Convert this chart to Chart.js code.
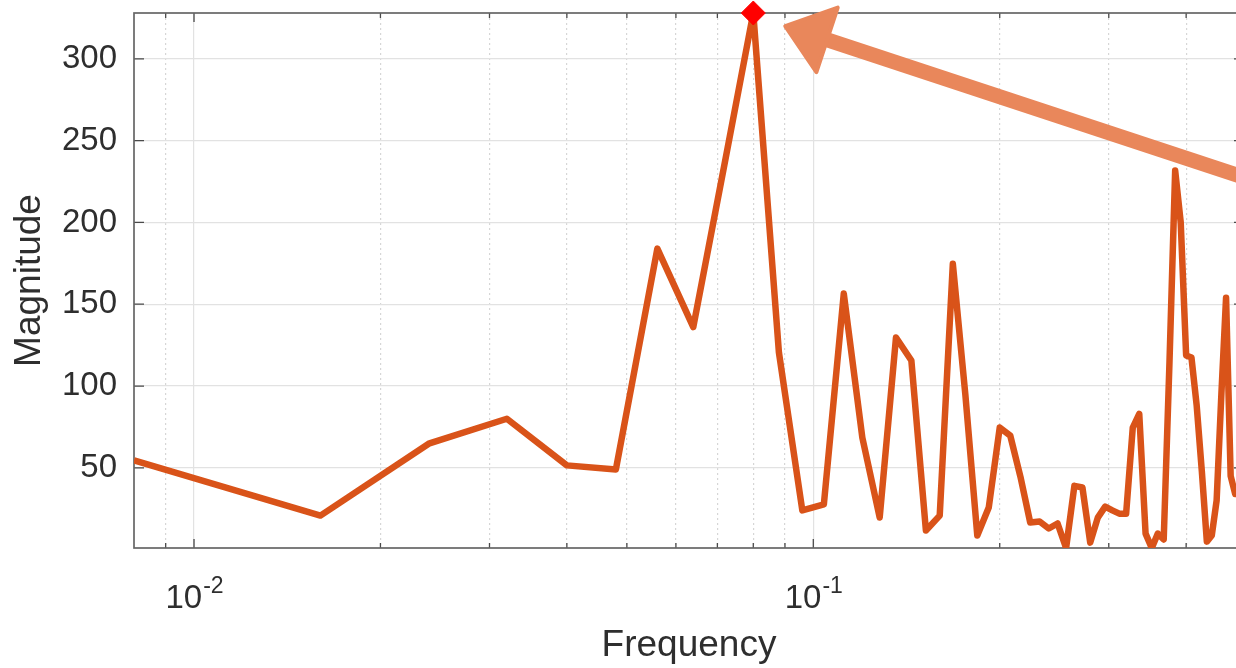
<!DOCTYPE html>
<html>
<head>
<meta charset="utf-8">
<script src="https://cdn.jsdelivr.net/npm/chart.js@4.4.1/dist/chart.umd.min.js"></script>
<style>
  html, body { margin: 0; padding: 0; background: #fff; overflow: hidden; }
  #wrap { width: 1236px; height: 668px; overflow: hidden; }
</style>
</head>
<body>
<div id="wrap"><canvas id="spectrum" width="1260" height="668"></canvas></div>
<script>
// FFT bins (k / 125) and magnitudes
const frequency = [
  0.008, 0.016, 0.024, 0.032, 0.040, 0.048, 0.056, 0.064, 0.072, 0.080,
  0.088, 0.096, 0.104, 0.112, 0.120, 0.128, 0.136, 0.144, 0.152, 0.160,
  0.168, 0.176, 0.184, 0.192, 0.200, 0.208, 0.216, 0.224, 0.232, 0.240,
  0.248, 0.256, 0.264, 0.272, 0.280, 0.288, 0.296, 0.304, 0.312, 0.320,
  0.328, 0.336, 0.344, 0.352, 0.360, 0.368, 0.376, 0.384, 0.392, 0.400,
  0.408, 0.416, 0.424, 0.432, 0.440, 0.448, 0.456, 0.464, 0.472, 0.480,
  0.488, 0.496
];
const magnitude = [
  54.5, 20.8, 65, 80, 51.5, 49, 184, 136, 237, 328,
  120.5, 24, 27.6, 156.5, 68.5, 19.6, 129.7, 115.6, 11.7, 20.8,
  174.7, 94.8, 8.6, 25.7, 74.6, 69.7, 44.6, 16.6, 17.2, 12.9,
  16, 1, 39, 38, 4.3, 19.6, 26.3, 24, 22, 22,
  74.6, 83, 9.8, 1, 9.8, 6.2, 115, 231.7, 200, 118.7,
  117.4, 88, 48, 4.9, 8.6, 30, 95, 154, 45, 34,
  38, 30
];
const peakPoint = [0.08, 328];
const yTicks = [50, 100, 150, 200, 250, 300];
const xGridTicks = [0.009, 0.01, 0.02, 0.03, 0.04, 0.05, 0.06, 0.07, 0.08, 0.09, 0.1, 0.2, 0.3, 0.4];
const xLabelTicks = [0.01, 0.1];
const xLabelText = [['10', '-2'], ['10', '-1']];
const arrowTail = [0.55, 222];
const arrowTip = [0.0901, 320];

const lineColor = '#D95319';
const arrowColor = '#E9875B';
const textColor = '#2e2e2e';
const isMajor = v => xLabelTicks.some(t => Math.abs(t - v) < 1e-9);

// MATLAB-style box, inward ticks, 10^n labels and the arrow annotation
const matlabAxes = {
  id: 'matlabAxes',
  beforeDatasetsDraw(chart) {
    const { ctx, chartArea: a, scales: { x, y } } = chart;
    ctx.save();
    ctx.strokeStyle = '#4a4a4a';
    ctx.lineWidth = 1.3;
    ctx.beginPath();
    xGridTicks.forEach(v => {
      const px = x.getPixelForValue(v);
      const len = isMajor(v) ? 9 : 5;
      ctx.moveTo(px, a.bottom); ctx.lineTo(px, a.bottom - len);
      ctx.moveTo(px, a.top); ctx.lineTo(px, a.top + len);
    });
    yTicks.forEach(v => {
      const py = y.getPixelForValue(v);
      ctx.moveTo(a.left, py); ctx.lineTo(a.left + 10, py);
      ctx.moveTo(a.right, py); ctx.lineTo(a.right - 10, py);
    });
    ctx.stroke();
    ctx.strokeStyle = '#666666';
    ctx.lineWidth = 1.7;
    ctx.strokeRect(a.left, a.top, a.right - a.left, a.bottom - a.top);
    ctx.restore();
  },
  afterDraw(chart) {
    const { ctx, chartArea: a, scales: { x, y } } = chart;
    ctx.save();
    // x tick labels with superscript exponents
    ctx.fillStyle = textColor;
    ctx.textBaseline = 'alphabetic';
    xLabelTicks.forEach((v, i) => {
      const [base, exp] = xLabelText[i];
      ctx.font = '33px "Liberation Sans", Arial, sans-serif';
      const wb = ctx.measureText(base).width;
      ctx.font = '23px "Liberation Sans", Arial, sans-serif';
      const we = ctx.measureText(exp).width;
      const left = x.getPixelForValue(v) - (wb + we) / 2;
      ctx.font = '33px "Liberation Sans", Arial, sans-serif';
      ctx.fillText(base, left, a.bottom + 60);
      ctx.font = '23px "Liberation Sans", Arial, sans-serif';
      ctx.fillText(exp, left + wb + 1, a.bottom + 45);
    });
    // arrow
    const x1 = x.getPixelForValue(arrowTail[0]), y1 = y.getPixelForValue(arrowTail[1]);
    const x2 = x.getPixelForValue(arrowTip[0]), y2 = y.getPixelForValue(arrowTip[1]);
    const ang = Math.atan2(y2 - y1, x2 - x1);
    const headLen = 44, headHalf = 34;
    const bx = x2 - headLen * Math.cos(ang), by = y2 - headLen * Math.sin(ang);
    ctx.strokeStyle = arrowColor;
    ctx.fillStyle = arrowColor;
    ctx.lineWidth = 15;
    ctx.beginPath();
    ctx.moveTo(x1, y1);
    ctx.lineTo(bx + 2 * Math.cos(ang), by + 2 * Math.sin(ang));
    ctx.stroke();
    ctx.lineWidth = 4;
    ctx.lineJoin = 'round';
    ctx.beginPath();
    ctx.moveTo(x2, y2);
    ctx.lineTo(bx - headHalf * Math.sin(ang), by + headHalf * Math.cos(ang));
    ctx.lineTo(bx + headHalf * Math.sin(ang), by - headHalf * Math.cos(ang));
    ctx.closePath();
    ctx.fill();
    ctx.stroke();
    ctx.restore();
  }
};

new Chart(document.getElementById('spectrum'), {
  type: 'line',
  data: {
    datasets: [
      {
        label: 'Peak',
        data: [{ x: peakPoint[0], y: peakPoint[1] }],
        showLine: false,
        pointStyle: 'rectRot',
        pointRadius: 12,
        pointBackgroundColor: '#ff0000',
        pointBorderColor: '#ff0000',
        clip: false,
        order: 0
      },
      {
        label: 'Magnitude',
        data: frequency.map((f, i) => ({ x: f, y: magnitude[i] })),
        borderColor: lineColor,
        borderWidth: 6.5,
        borderJoinStyle: 'round',
        pointRadius: 0,
        tension: 0,
        order: 1
      }
    ]
  },
  options: {
    responsive: false,
    animation: false,
    layout: { padding: { top: 11.5, right: 16, left: 0, bottom: 0 } },
    plugins: { legend: { display: false }, tooltip: { enabled: false } },
    scales: {
      x: {
        type: 'logarithmic',
        min: 0.008,
        max: 0.496,
        afterBuildTicks: s => { s.ticks = xGridTicks.map(v => ({ value: v })); },
        afterFit: s => { s.height = 120; s.paddingLeft = 0; s.paddingRight = 0; },
        ticks: { display: false },
        grid: {
          drawTicks: false,
          color: c => isMajor(c.tick.value) ? '#e2e2e2' : '#d6d6d6',
          lineWidth: 1.2
        },
        border: { display: false, dash: c => isMajor(c.tick.value) ? [] : [2, 3] },
        title: {
          display: true,
          text: 'Frequency',
          color: textColor,
          font: { family: '"Liberation Sans", Arial, sans-serif', size: 37 },
          padding: { top: 0, bottom: 0 }
        }
      },
      y: {
        type: 'linear',
        min: 1,
        max: 328,
        afterBuildTicks: s => { s.ticks = yTicks.map(v => ({ value: v })); },
        afterFit: s => { s.width = 134; s.paddingTop = 0; s.paddingBottom = 0; },
        ticks: {
          color: textColor,
          padding: 17,
          font: { family: '"Liberation Sans", Arial, sans-serif', size: 33 }
        },
        grid: { drawTicks: false, color: '#e2e2e2', lineWidth: 1.2 },
        border: { display: false },
        title: {
          display: true,
          text: 'Magnitude',
          color: textColor,
          font: { family: '"Liberation Sans", Arial, sans-serif', size: 37 },
          padding: { top: 8, bottom: 0 }
        }
      }
    }
  },
  plugins: [matlabAxes]
});
</script>
</body>
</html>
